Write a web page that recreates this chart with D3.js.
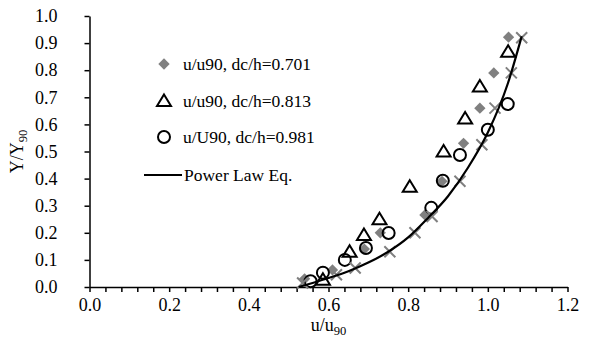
<!DOCTYPE html>
<html><head><meta charset="utf-8">
<script src="https://cdn.jsdelivr.net/npm/d3@7"></script>
<style>
body{margin:0;background:#fff}
svg text{font-family:"Liberation Serif","Times New Roman","DejaVu Serif",serif !important;fill:#000}
</style>
</head><body>
<svg id="chart" width="606" height="346"></svg>
<script>
// ---- data ----
const seriesNames = ["u/u90, dc/h=0.701", "u/u90, dc/h=0.813", "u/U90, dc/h=0.981", "Power Law Eq."];
const diamondPts = [[0.54,0.03],[0.61,0.063],[0.69,0.14],[0.73,0.2],[0.842,0.266],[0.885,0.39],[0.939,0.53],[0.98,0.66],[1.015,0.79],[1.052,0.922]];
const trianglePts = [[0.586,0.027],[0.653,0.13],[0.689,0.192],[0.728,0.25],[0.804,0.37],[0.889,0.5],[0.943,0.622],[0.98,0.74],[1.051,0.868]];
const circlePts = [[0.555,0.021],[0.586,0.053],[0.641,0.1],[0.694,0.144],[0.751,0.199],[0.858,0.292],[0.887,0.392],[0.93,0.487],[1.0,0.58],[1.05,0.675]];
const crossPts = [[0.535,0.015],[0.62,0.045],[0.667,0.07],[0.754,0.13],[0.817,0.2],[0.86,0.26],[0.93,0.39],[0.985,0.525],[1.018,0.66],[1.059,0.79],[1.085,0.92]];
const powerLawPts = [[0.525,0.0],[0.56,0.015],[0.6,0.033],[0.65,0.058],[0.7,0.09],[0.75,0.13],[0.8,0.183],[0.85,0.255],[0.9,0.335],[0.95,0.44],[1.0,0.57],[1.05,0.75],[1.085,0.925]];
const xTickValues = d3.range(0, 1.2001, 0.04);
const xLabelValues = [0, 0.2, 0.4, 0.6, 0.8, 1.0, 1.2];
const yTickValues = [0,0.1,0.2,0.3,0.4,0.5,0.6,0.7,0.8,0.9,1.0];

const svg = d3.select("#chart");
const x = d3.scaleLinear().domain([0, 1.2]).range([89.5, 567.5]);
const y = d3.scaleLinear().domain([0, 1]).range([287, 16]);
const FS = 18, LFS = 17.5;

// axes
const xAxis = d3.axisBottom(x).tickValues(xTickValues).tickSize(5).tickSizeOuter(0).tickPadding(6)
  .tickFormat(d => xLabelValues.some(v => Math.abs(v - d) < 1e-6) ? d3.format(".1f")(d) : "");
const gx = svg.append("g").attr("transform", `translate(0,${y(0)})`).call(xAxis);
gx.attr("font-family", null).attr("font-size", null);
gx.select(".domain").attr("stroke", "#000").attr("stroke-width", 1.5);
gx.selectAll(".tick line").attr("stroke", "#000").attr("stroke-width", 1.5);
gx.selectAll(".tick text").style("font-size", FS + "px");

const yAxis = d3.axisLeft(y).tickValues(yTickValues).tickSize(5).tickSizeOuter(0).tickPadding(27)
  .tickFormat(d3.format(".1f"));
const gy = svg.append("g").attr("transform", `translate(${x(0)},0)`).call(yAxis);
gy.attr("font-family", null).attr("font-size", null);
gy.select(".domain").attr("stroke", "#000").attr("stroke-width", 1.5);
gy.selectAll(".tick line").attr("stroke", "#000").attr("stroke-width", 1.5);
gy.selectAll(".tick text").style("font-size", FS + "px");

// axis titles
const xt = svg.append("text").attr("x", x(0.6)).attr("y", 331).attr("text-anchor", "middle").style("font-size", FS + "px");
xt.append("tspan").text("u/u");
xt.append("tspan").style("font-size", (FS * 0.7) + "px").attr("dy", 4).text("90");
const yt = svg.append("text").attr("transform", `translate(23,${(y(0) + y(1)) / 2}) rotate(-90)`).attr("text-anchor", "middle").style("font-size", FS + "px");
yt.append("tspan").text("Y/Y");
yt.append("tspan").style("font-size", (FS * 0.7) + "px").attr("dy", 4).text("90");

// markers
const gray = "#808080";
const trianglePath = "M0,-6.5L7,5L-7,5Z";
const crossPath = "M-5.5,-5.5L5.5,5.5M-5.5,5.5L5.5,-5.5";
const squarePath = d3.symbol().type(d3.symbolSquare).size(64)();

function drawDiamond(g, px, py) { g.append("path").attr("d", squarePath).attr("transform", `translate(${px},${py}) rotate(45)`).attr("fill", gray); }
function drawTriangle(g, px, py) { g.append("path").attr("d", trianglePath).attr("transform", `translate(${px},${py})`).attr("fill", "none").attr("stroke", "#000").attr("stroke-width", 2); }
function drawCircle(g, px, py) { g.append("circle").attr("cx", px).attr("cy", py).attr("r", 6).attr("fill", "none").attr("stroke", "#000").attr("stroke-width", 2); }
function drawCross(g, px, py) { g.append("path").attr("d", crossPath).attr("transform", `translate(${px},${py})`).attr("fill", "none").attr("stroke", gray).attr("stroke-width", 2); }

const plot = svg.append("g");
diamondPts.forEach(d => drawDiamond(plot, x(d[0]), y(d[1])));
trianglePts.forEach(d => drawTriangle(plot, x(d[0]), y(d[1])));
circlePts.forEach(d => drawCircle(plot, x(d[0]), y(d[1])));
crossPts.forEach(d => drawCross(plot, x(d[0]), y(d[1])));

const line = d3.line().x(d => x(d[0])).y(d => y(d[1])).curve(d3.curveMonotoneX);
plot.append("path").datum(powerLawPts).attr("d", line).attr("fill", "none").attr("stroke", "#000").attr("stroke-width", 2.2);

// legend
const leg = svg.append("g");
const legRows = [64, 101, 137, 175];
drawDiamond(leg, 164, legRows[0]);
drawTriangle(leg, 164, legRows[1]);
drawCircle(leg, 164, legRows[2]);
leg.append("line").attr("x1", 144).attr("x2", 182).attr("y1", legRows[3]).attr("y2", legRows[3]).attr("stroke", "#000").attr("stroke-width", 2);
seriesNames.forEach((n, i) => {
  leg.append("text").attr("x", i === 3 ? 184 : 183).attr("y", legRows[i]).attr("dy", "0.35em").style("font-size", LFS + "px").text(n);
});
</script>
</body></html>
